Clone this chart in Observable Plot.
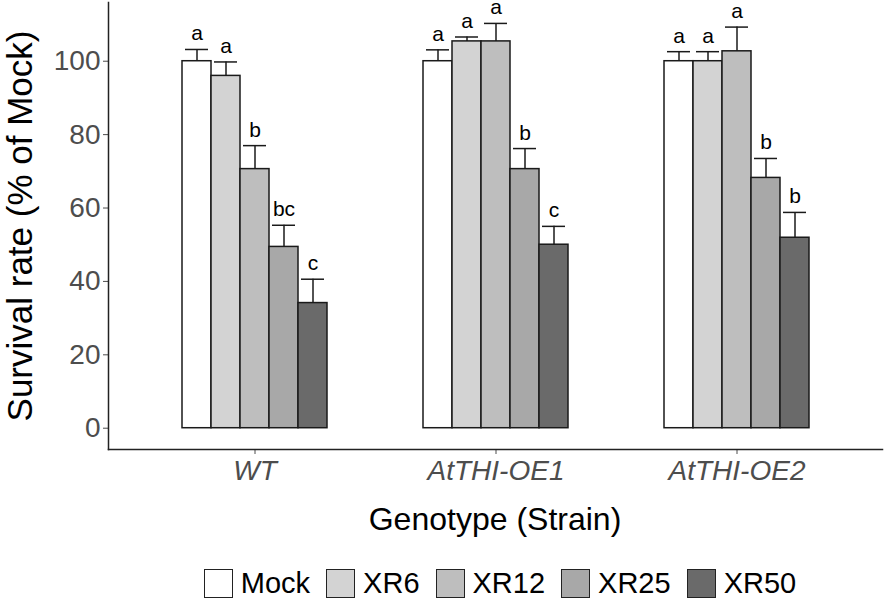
<!DOCTYPE html>
<html>
<head>
<meta charset="utf-8">
<script src="https://cdn.jsdelivr.net/npm/d3@7"></script>
<script src="https://cdn.jsdelivr.net/npm/@observablehq/plot@0.6"></script>
<style>
  body { margin: 0; background: #fff; font-family: "Liberation Sans", Arial, sans-serif; }
  #wrap { position: relative; width: 886px; height: 602px; overflow: hidden; }
  #wrap svg { position: absolute; left: 0; top: 0; }
  #xtitle { position: absolute; left: 108px; width: 774px; top: 503px; height: 32px; line-height: 32px;
            text-align: center; font-size: 32px; color: #000; }
  #legend { position: absolute; left: 113px; width: 774px; top: 568px; height: 30px;
            display: flex; justify-content: center; align-items: center; font-size: 29px; color: #000; }
  .item { display: flex; align-items: center; margin: 0 8px; }
  .key { width: 27px; height: 27px; border: 1.5px solid #222; margin-right: 8px; }
</style>
</head>
<body>
<div id="wrap"></div>
<script>
const genotypes = ["WT", "AtTHI-OE1", "AtTHI-OE2"];
const treatments = ["Mock", "XR6", "XR12", "XR25", "XR50"];
const colors = ["#ffffff", "#d3d3d3", "#bebebe", "#a8a8a8", "#6a6a6a"];

const wtMeans   = [100, 96.0, 70.6, 49.4, 34.1];
const wtErrors  = [3.2, 3.8, 6.4, 5.9, 6.5];
const wtLetters = ["a", "a", "b", "bc", "c"];

const oe1Means   = [100, 105.4, 105.4, 70.6, 50.0];
const oe1Errors  = [3.1, 1.2, 4.9, 5.6, 5.0];
const oe1Letters = ["a", "a", "a", "b", "c"];

const oe2Means   = [100, 100, 102.7, 68.2, 51.9];
const oe2Errors  = [2.6, 2.6, 6.6, 5.3, 6.9];
const oe2Letters = ["a", "a", "a", "b", "b"];

const yTicks = [0, 20, 40, 60, 80, 100];
const yDomain = [-5.8, 116];

const series = [
  [wtMeans, wtErrors, wtLetters],
  [oe1Means, oe1Errors, oe1Letters],
  [oe2Means, oe2Errors, oe2Letters]
];
const rows = [];
genotypes.forEach((g, gi) => {
  const [m, e, l] = series[gi];
  treatments.forEach((t, ti) => {
    rows.push({genotype: g, treatment: t, mean: m[ti], top: m[ti] + e[ti], letter: l[ti]});
  });
});

const H = 492, mL = 108, mR = 4, mT = 2, mB = 43;
const font = "Liberation Sans, Arial, sans-serif";

const main = Plot.plot({
  width: 886, height: H, marginLeft: mL, marginRight: mR, marginTop: mT, marginBottom: mB,
  style: {fontFamily: font, background: "transparent", overflow: "visible"},
  fx: {domain: genotypes, paddingInner: 0.4, paddingOuter: 0.3, label: null},
  x: {domain: treatments, padding: 0, axis: null},
  y: {domain: yDomain, axis: null},
  color: {domain: treatments, range: colors},
  marks: [
    Plot.barY(rows, {fx: "genotype", x: "treatment", y1: 0, y2: "mean", fill: "treatment",
      stroke: "#1a1a1a", strokeWidth: 1.5, inset: 0}),
    Plot.ruleX(rows, {fx: "genotype", x: "treatment", y1: "mean", y2: "top", stroke: "#1a1a1a", strokeWidth: 1.5}),
    Plot.tickY(rows, {fx: "genotype", x: "treatment", y: "top", insetLeft: 3, insetRight: 3,
      stroke: "#1a1a1a", strokeWidth: 1.5}),
    Plot.text(rows, {fx: "genotype", x: "treatment", y: "top", text: "letter", lineAnchor: "bottom",
      dy: -9, fontSize: 21, fill: "#000"}),
    Plot.axisFx({anchor: "bottom", tickSize: 5, tickPadding: 6, fontSize: 28, fontStyle: "italic",
      color: "#4d4d4d", label: null})
  ]
});

const over = Plot.plot({
  width: 886, height: H, marginLeft: mL, marginRight: mR, marginTop: mT, marginBottom: mB,
  style: {fontFamily: font, background: "transparent", overflow: "visible"},
  x: {domain: [0, 1], axis: null},
  y: {domain: yDomain},
  marks: [
    Plot.axisY({ticks: yTicks, tickSize: 5, tickPadding: 3, fontSize: 28, color: "#4d4d4d", label: null}),
    Plot.axisY({ticks: [], label: "Survival rate (% of Mock)", labelAnchor: "center", labelArrow: "none",
      labelOffset: 101, fontSize: 35, color: "#000"}),
    Plot.frame({anchor: "left", stroke: "#222", strokeWidth: 1.5}),
    Plot.frame({anchor: "bottom", stroke: "#222", strokeWidth: 1.5})
  ]
});

const wrap = document.getElementById("wrap");
wrap.appendChild(main);
wrap.appendChild(over);

const xt = document.createElement("div");
xt.id = "xtitle";
xt.textContent = "Genotype (Strain)";
wrap.appendChild(xt);

const lg = document.createElement("div");
lg.id = "legend";
treatments.forEach((t, i) => {
  const it = document.createElement("div");
  it.className = "item";
  const k = document.createElement("div");
  k.className = "key";
  k.style.background = colors[i];
  const s = document.createElement("span");
  s.textContent = t;
  it.appendChild(k);
  it.appendChild(s);
  lg.appendChild(it);
});
wrap.appendChild(lg);
</script>
</body>
</html>
